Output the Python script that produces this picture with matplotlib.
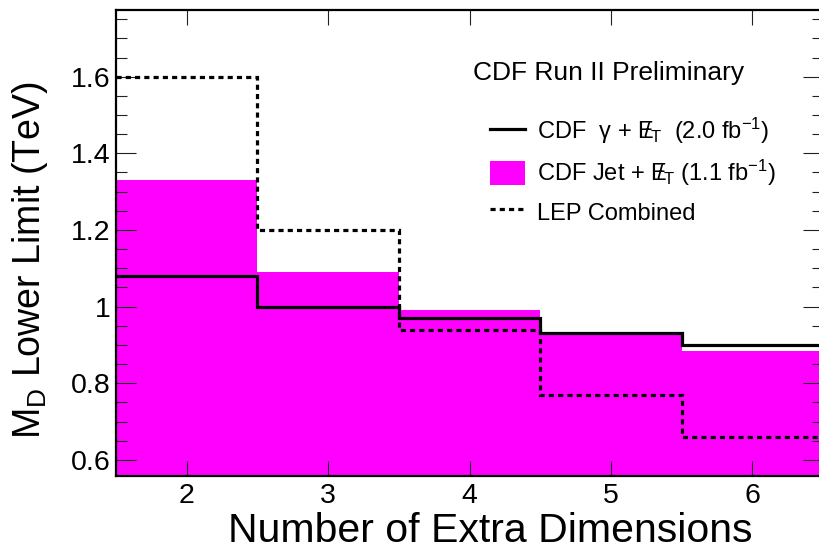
import matplotlib
matplotlib.use("Agg")
import matplotlib.pyplot as plt
from matplotlib.lines import Line2D
from matplotlib.patches import Patch
from matplotlib.ticker import MultipleLocator

plt.rcParams['font.family'] = ['Liberation Sans', 'DejaVu Sans']
plt.rcParams['mathtext.fontset'] = 'custom'
plt.rcParams['mathtext.rm'] = 'Liberation Sans'
plt.rcParams['mathtext.it'] = 'Liberation Sans:italic'

# Number of extra dimensions and the bin edges around each
n_dims = [2, 3, 4, 5, 6]
bin_edges = [1.5, 2.5, 3.5, 4.5, 5.5, 6.5]

# M_D lower limits (TeV)
cdf_photon_met = [1.08, 1.00, 0.97, 0.93, 0.90]
cdf_jet_met = [1.33, 1.09, 0.99, 0.925, 0.885]
lep_combined = [1.60, 1.20, 0.94, 0.77, 0.66]

fig = plt.figure(figsize=(8.19, 5.51), dpi=100)
ax = fig.add_axes([116 / 819, 1 - 476 / 551, 707 / 819, 466 / 551])

ax.stairs(cdf_jet_met, bin_edges, fill=True, color='#ff00ff', baseline=0, zorder=1)
ax.stairs(cdf_photon_met, bin_edges, baseline=None, color='black', lw=2.3, zorder=3)
ax.stairs(lep_combined, bin_edges, baseline=None, color='black', lw=2.3,
          linestyle=(0, (1.6, 1.3)), zorder=3)

ax.set_xlim(1.5, 6.5)
ax.set_ylim(0.558, 1.774)
ax.set_xticks(n_dims)
ax.set_xticklabels([str(n) for n in n_dims])
ax.yaxis.set_minor_locator(MultipleLocator(0.05))
ax.set_yticks([0.6, 0.8, 1.0, 1.2, 1.4, 1.6])
ax.set_yticklabels(['0.6', '0.8', '1', '1.2', '1.4', '1.6'])

ax.tick_params(axis='both', which='both', direction='in', top=True, right=True,
               width=0.8, color='#222222')
ax.tick_params(axis='y', which='major', length=14.5, pad=4, labelsize=20.5)
ax.tick_params(axis='y', which='minor', length=8)
ax.tick_params(axis='x', which='major', length=11, pad=5, labelsize=20.5)

for s in ax.spines.values():
    s.set_linewidth(1.6)

ax.set_xlabel('Number of Extra Dimensions', fontsize=29.5)
ax.xaxis.set_label_coords(0.529, -0.078)
ax.set_ylabel(r'M$_{\mathrm{D}}$ Lower Limit (TeV)', fontsize=27)
ax.yaxis.set_label_coords(-0.093, 0.4635)

ax.text(0.505, 0.865, 'CDF Run II Preliminary', transform=ax.transAxes,
        fontsize=19, ha='left', va='center')

handles = [
    Line2D([], [], color='black', lw=2.3),
    Patch(facecolor='#ff00ff', edgecolor='none'),
    Line2D([], [], color='black', lw=2.3, linestyle=(0, (1.6, 1.3))),
]
labels = [
    r'CDF  γ + $\mathrm{E}\!\!\!/_{\mathrm{T}}$  (2.0 fb$^{\mathrm{-1}}$)',
    r'CDF Jet + $\mathrm{E}\!\!\!/_{\mathrm{T}}$ (1.1 fb$^{\mathrm{-1}}$)',
    'LEP Combined',
]
ax.legend(handles, labels, loc='upper left', bbox_to_anchor=(0.529, 0.772),
          frameon=False, fontsize=17, handlelength=1.5, handleheight=1.23,
          handletextpad=0.5, labelspacing=0.48, borderpad=0, borderaxespad=0)

fig.savefig('out.png', dpi=100)
